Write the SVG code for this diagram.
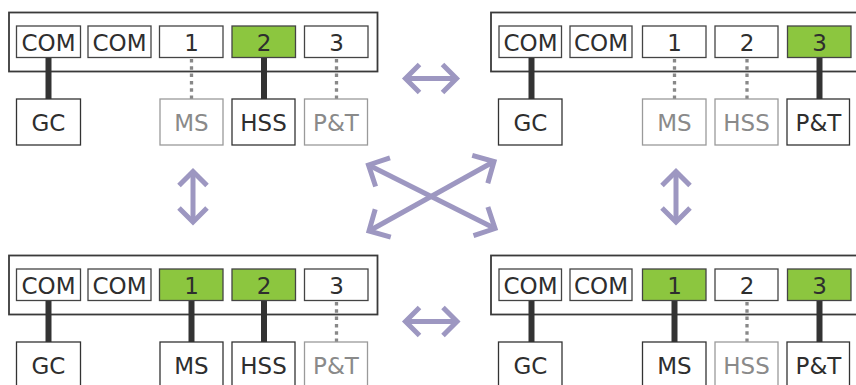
<svg xmlns="http://www.w3.org/2000/svg" width="856" height="385" viewBox="0 0 856 385">
<style>
.outer{fill:#fff;stroke:#3a3a3a;stroke-width:1.8}
.port{fill:#fff;stroke:#444;stroke-width:1.3}
.on{fill:#8cc63f}
.dev{fill:#fff;stroke:#333;stroke-width:1.3}
.devoff{fill:#fff;stroke:#9a9a9a;stroke-width:1.3}
text{font-family:"DejaVu Sans",Verdana,sans-serif;font-size:23px;text-anchor:middle;fill:#2e2e2e}
text.off{fill:#8a8a8a}
.link{stroke:#333;stroke-width:6;fill:none}
.dot{stroke:#888;stroke-width:3.3;stroke-dasharray:3.5 3.8;fill:none}
.arr{stroke:#9d97c1;stroke-width:5;fill:none}
</style>
<defs>
<marker id="head" markerUnits="userSpaceOnUse" orient="auto-start-reverse" overflow="visible" refX="0" refY="0" markerWidth="40" markerHeight="40">
<path d="M-14,-14 L0,0 L-14,14" fill="none" stroke="#9d97c1" stroke-width="5"/>
</marker>
<marker id="headL" markerUnits="userSpaceOnUse" orient="auto-start-reverse" overflow="visible" refX="0" refY="0" markerWidth="40" markerHeight="40">
<path d="M-16,-16 L0,0 L-16,16" fill="none" stroke="#9d97c1" stroke-width="5"/>
</marker>
</defs>

<!-- Top-left panel: 2 active -->
<g id="panel-tl">
<g id="tl-chassis"><rect class="outer" x="9" y="12.5" width="368.5" height="59"/></g>
<g id="tl-connectors">
<line class="link" x1="48.5" y1="57.5" x2="48.5" y2="99"/>
<line class="dot" x1="191.5" y1="59" x2="191.5" y2="99"/>
<line class="link" x1="264" y1="57.5" x2="264" y2="99"/>
<line class="dot" x1="336.5" y1="59" x2="336.5" y2="99"/>
</g>
<g id="tl-com1"><rect class="port" x="16.5" y="26" width="64" height="31.5"/><text x="48.5" y="50.5">COM</text></g>
<g id="tl-com2"><rect class="port" x="88" y="26" width="63" height="31.5"/><text x="119.5" y="50.5">COM</text></g>
<g id="tl-p1"><rect class="port" x="159.5" y="26" width="63.5" height="31.5"/><text x="191.5" y="50.5">1</text></g>
<g id="tl-p2"><rect class="port on" x="232" y="26" width="63.5" height="31.5"/><text x="264" y="50.5">2</text></g>
<g id="tl-p3"><rect class="port" x="304.5" y="26" width="63.5" height="31.5"/><text x="336.5" y="50.5">3</text></g>
<g id="tl-gc"><rect class="dev" x="16.5" y="99" width="64" height="46"/><text x="48.5" y="131">GC</text></g>
<g id="tl-ms"><rect class="devoff" x="160" y="99" width="63" height="46"/><text class="off" x="191.5" y="131">MS</text></g>
<g id="tl-hss"><rect class="dev" x="232" y="99" width="63" height="46"/><text x="263.5" y="131">HSS</text></g>
<g id="tl-pt"><rect class="devoff" x="304.5" y="99" width="63" height="46"/><text class="off" x="336" y="131">P&amp;T</text></g>
</g>

<!-- Top-right panel: 3 active -->
<g id="panel-tr" transform="translate(483,0)">
<g id="tr-chassis"><rect class="outer" x="8" y="12.5" width="380" height="59"/></g>
<g id="tr-connectors">
<line class="link" x1="48.5" y1="57.5" x2="48.5" y2="99"/>
<line class="dot" x1="191.5" y1="59" x2="191.5" y2="99"/>
<line class="dot" x1="264" y1="59" x2="264" y2="99"/>
<line class="link" x1="336.5" y1="57.5" x2="336.5" y2="99"/>
</g>
<g id="tr-com1"><rect class="port" x="16" y="26" width="62.5" height="31.5"/><text x="47.5" y="50.5">COM</text></g>
<g id="tr-com2"><rect class="port" x="87" y="26" width="62" height="31.5"/><text x="118" y="50.5">COM</text></g>
<g id="tr-p1"><rect class="port" x="159.5" y="26" width="63.5" height="31.5"/><text x="191.5" y="50.5">1</text></g>
<g id="tr-p2"><rect class="port" x="232" y="26" width="63" height="31.5"/><text x="264" y="50.5">2</text></g>
<g id="tr-p3"><rect class="port on" x="304.5" y="26" width="63.5" height="31.5"/><text x="336.5" y="50.5">3</text></g>
<g id="tr-gc"><rect class="dev" x="15.5" y="99" width="63.5" height="46"/><text x="47.5" y="131">GC</text></g>
<g id="tr-ms"><rect class="devoff" x="159.5" y="99" width="63.5" height="46"/><text class="off" x="191.5" y="131">MS</text></g>
<g id="tr-hss"><rect class="devoff" x="232" y="99" width="63" height="46"/><text class="off" x="263.5" y="131">HSS</text></g>
<g id="tr-pt"><rect class="dev" x="304" y="99" width="62.5" height="46"/><text x="335.5" y="131">P&amp;T</text></g>
</g>

<!-- Bottom-left panel: 1 and 2 active -->
<g id="panel-bl" transform="translate(0,243)">
<g id="bl-chassis"><rect class="outer" x="9" y="12.5" width="368.5" height="59"/></g>
<g id="bl-connectors">
<line class="link" x1="48.5" y1="57.5" x2="48.5" y2="99"/>
<line class="link" x1="191.5" y1="57.5" x2="191.5" y2="99"/>
<line class="link" x1="264" y1="57.5" x2="264" y2="99"/>
<line class="dot" x1="336.5" y1="59" x2="336.5" y2="99"/>
</g>
<g id="bl-com1"><rect class="port" x="16.5" y="26" width="64" height="31.5"/><text x="48.5" y="50.5">COM</text></g>
<g id="bl-com2"><rect class="port" x="88" y="26" width="63" height="31.5"/><text x="119.5" y="50.5">COM</text></g>
<g id="bl-p1"><rect class="port on" x="159.5" y="26" width="63.5" height="31.5"/><text x="191.5" y="50.5">1</text></g>
<g id="bl-p2"><rect class="port on" x="232" y="26" width="63.5" height="31.5"/><text x="264" y="50.5">2</text></g>
<g id="bl-p3"><rect class="port" x="304.5" y="26" width="63.5" height="31.5"/><text x="336.5" y="50.5">3</text></g>
<g id="bl-gc"><rect class="dev" x="16.5" y="99" width="64" height="46"/><text x="48.5" y="131">GC</text></g>
<g id="bl-ms"><rect class="dev" x="160" y="99" width="63" height="46"/><text x="191.5" y="131">MS</text></g>
<g id="bl-hss"><rect class="dev" x="232" y="99" width="63" height="46"/><text x="263.5" y="131">HSS</text></g>
<g id="bl-pt"><rect class="devoff" x="304.5" y="99" width="63" height="46"/><text class="off" x="336" y="131">P&amp;T</text></g>
</g>

<!-- Bottom-right panel: 1 and 3 active -->
<g id="panel-br" transform="translate(483,243)">
<g id="br-chassis"><rect class="outer" x="8" y="12.5" width="380" height="59"/></g>
<g id="br-connectors">
<line class="link" x1="48.5" y1="57.5" x2="48.5" y2="99"/>
<line class="link" x1="191.5" y1="57.5" x2="191.5" y2="99"/>
<line class="dot" x1="264" y1="59" x2="264" y2="99"/>
<line class="link" x1="336.5" y1="57.5" x2="336.5" y2="99"/>
</g>
<g id="br-com1"><rect class="port" x="16" y="26" width="62.5" height="31.5"/><text x="47.5" y="50.5">COM</text></g>
<g id="br-com2"><rect class="port" x="87" y="26" width="62" height="31.5"/><text x="118" y="50.5">COM</text></g>
<g id="br-p1"><rect class="port on" x="159.5" y="26" width="63.5" height="31.5"/><text x="191.5" y="50.5">1</text></g>
<g id="br-p2"><rect class="port" x="232" y="26" width="63" height="31.5"/><text x="264" y="50.5">2</text></g>
<g id="br-p3"><rect class="port on" x="304.5" y="26" width="63.5" height="31.5"/><text x="336.5" y="50.5">3</text></g>
<g id="br-gc"><rect class="dev" x="15.5" y="99" width="63.5" height="46"/><text x="47.5" y="131">GC</text></g>
<g id="br-ms"><rect class="dev" x="159.5" y="99" width="63.5" height="46"/><text x="191.5" y="131">MS</text></g>
<g id="br-hss"><rect class="devoff" x="232" y="99" width="63" height="46"/><text class="off" x="263.5" y="131">HSS</text></g>
<g id="br-pt"><rect class="dev" x="304" y="99" width="62.5" height="46"/><text x="335.5" y="131">P&amp;T</text></g>
</g>

<!-- Transition arrows -->
<g id="transitions">
<line class="arr" x1="405.5" y1="78.5" x2="456.5" y2="78.5" marker-start="url(#head)" marker-end="url(#head)"/>
<line class="arr" x1="405.5" y1="321.5" x2="457" y2="321.5" marker-start="url(#head)" marker-end="url(#head)"/>
<line class="arr" x1="193" y1="171.5" x2="193" y2="222" marker-start="url(#head)" marker-end="url(#head)"/>
<line class="arr" x1="676" y1="171.5" x2="676" y2="222" marker-start="url(#head)" marker-end="url(#head)"/>
<line class="arr" x1="368.5" y1="165" x2="495" y2="228.5" marker-start="url(#headL)" marker-end="url(#headL)"/>
<line class="arr" x1="369" y1="231" x2="494" y2="161.5" marker-start="url(#headL)" marker-end="url(#headL)"/>
</g>
</svg>
